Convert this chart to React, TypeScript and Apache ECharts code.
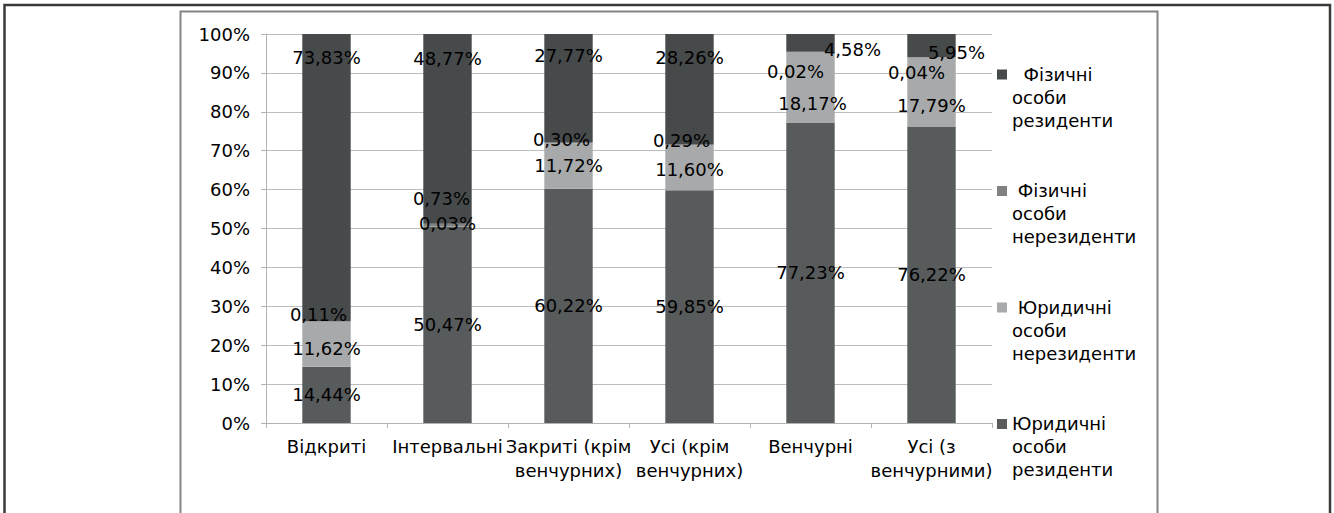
import React, { useEffect, useRef } from "react";
import * as echarts from "echarts";

// Fund types along the x axis
const categories = [
  "Відкриті",
  "Інтервальні",
  "Закриті (крім\nвенчурних)",
  "Усі (крім\nвенчурних)",
  "Венчурні",
  "Усі (з\nвенчурними)",
];

// Ownership shares, %, stacked bottom to top
const legalResidents = [14.44, 50.47, 60.22, 59.85, 77.23, 76.22];
const legalNonResidents = [11.62, 0.03, 11.72, 11.6, 18.17, 17.79];
const individualNonResidents = [0.11, 0.73, 0.3, 0.29, 0.02, 0.04];
const individualResidents = [73.83, 48.77, 27.77, 28.26, 4.58, 5.95];

const yTicks = [0, 10, 20, 30, 40, 50, 60, 70, 80, 90, 100];

const FONT = "DejaVu Sans";

// label nudges [dx, dy] so that the small-segment labels do not collide
const nudgeLegalRes: [number, number][] = [[0, 0], [0, 0], [0, 0], [0, 0], [0, 0], [0, 0]];
const nudgeLegalNonRes: [number, number][] = [[0, 4], [0, -3], [0, 0], [0, 2], [2, 16], [0, 14]];
const nudgeIndNonRes: [number, number][] = [[-8, -7], [-6, -27], [-7, -3], [-8, -4], [-15, 20], [-15, 15]];
const nudgeIndRes: [number, number][] = [[0, 0], [0, 1], [0, -2], [0, 0], [42, -8], [25, -5]];

const fmt = (v: number) => v.toFixed(2).replace(".", ",") + "%";

// legend square sits beside the first line of a three-line caption
const legendIcon =
  "path://M0,0h0.01v0.01h-0.01z M0,7h10v10h-10z M0,69h0.01v-0.01h-0.01z";

export default function App() {
  const ref = useRef<HTMLDivElement>(null);

  useEffect(() => {
    if (!ref.current) return;
    const chart = echarts.init(ref.current, null, { renderer: "svg" });

    const makeSeries = (
      name: string,
      values: number[],
      color: string,
      nudges: [number, number][],
      top = false
    ) => ({
      name,
      type: "bar",
      stack: "total",
      barWidth: "40%",
      itemStyle: { color },
      label: {
        show: true,
        position: top ? "insideTop" : "inside",
        distance: top ? 14 : 5,
        color: "#000",
        fontFamily: FONT,
        fontSize: 18,
        textBorderWidth: 0,
        formatter: (p: any) => fmt(p.value),
      },
      data: values.map((v, i) => ({ value: v, label: { offset: nudges[i] } })),
    });

    const legendNames: Record<string, string> = {
      "Фізичні особи резиденти": "\u00a0\u00a0Фізичні\nособи\nрезиденти",
      "Фізичні особи нерезиденти": "\u00a0Фізичні\nособи\nнерезиденти",
      "Юридичні особи нерезиденти": "\u00a0Юридичні\nособи\nнерезиденти",
      "Юридичні особи резиденти": "Юридичні\nособи\nрезиденти",
    };

    chart.setOption({
      animation: false,
      backgroundColor: "#fff",
      textStyle: { fontFamily: FONT },
      grid: { left: 266, right: 342, top: 34, bottom: 90, containLabel: false },
      legend: {
        orient: "vertical",
        left: 997,
        top: 62.5,
        padding: 0,
        itemWidth: 10,
        itemHeight: 69,
        itemGap: 47.5,
        icon: legendIcon,
        data: [
          "Фізичні особи резиденти",
          "Фізичні особи нерезиденти",
          "Юридичні особи нерезиденти",
          "Юридичні особи резиденти",
        ],
        formatter: (n: string) => legendNames[n] ?? n,
        textStyle: {
          fontFamily: FONT,
          fontSize: 18,
          lineHeight: 23,
          color: "#000",
        },
      },
      xAxis: {
        type: "category",
        data: categories,
        axisLine: { show: true, lineStyle: { color: "#b3b3b3", width: 1 } },
        axisTick: { show: true, length: 5, lineStyle: { color: "#b3b3b3" } },
        axisLabel: {
          interval: 0,
          margin: 11,
          color: "#000",
          fontFamily: FONT,
          fontSize: 18,
          lineHeight: 24,
        },
      },
      yAxis: {
        type: "value",
        min: yTicks[0],
        max: yTicks[yTicks.length - 1],
        interval: yTicks[1] - yTicks[0],
        axisLine: { show: true, lineStyle: { color: "#b3b3b3", width: 1 } },
        axisTick: { show: true, length: 5, lineStyle: { color: "#b3b3b3" } },
        splitLine: { show: true, lineStyle: { color: "#bdbdbd", width: 1 } },
        axisLabel: {
          margin: 16,
          color: "#000",
          fontFamily: FONT,
          fontSize: 18,
          formatter: (v: number) => v + "%",
        },
      },
      graphic: [
        {
          type: "rect",
          shape: { x: 4.5, y: 5, width: 1325.5, height: 600 },
          style: { fill: "none", stroke: "#3a3a3a", lineWidth: 2.5 },
          silent: true,
        },
        {
          type: "rect",
          shape: { x: 180.5, y: 11.5, width: 977, height: 600 },
          style: { fill: "none", stroke: "#848484", lineWidth: 2 },
          silent: true,
        },
      ],
      series: [
        makeSeries("Юридичні особи резиденти", legalResidents, "#585b5c", nudgeLegalRes),
        makeSeries("Юридичні особи нерезиденти", legalNonResidents, "#a7a9aa", nudgeLegalNonRes),
        makeSeries("Фізичні особи нерезиденти", individualNonResidents, "#7f8182", nudgeIndNonRes),
        makeSeries("Фізичні особи резиденти", individualResidents, "#474a4b", nudgeIndRes, true),
      ],
    });

    return () => chart.dispose();
  }, []);

  return (
    <div
      ref={ref}
      style={{ position: "absolute", left: 0, top: 0, width: 1334, height: 513 }}
    />
  );
}
